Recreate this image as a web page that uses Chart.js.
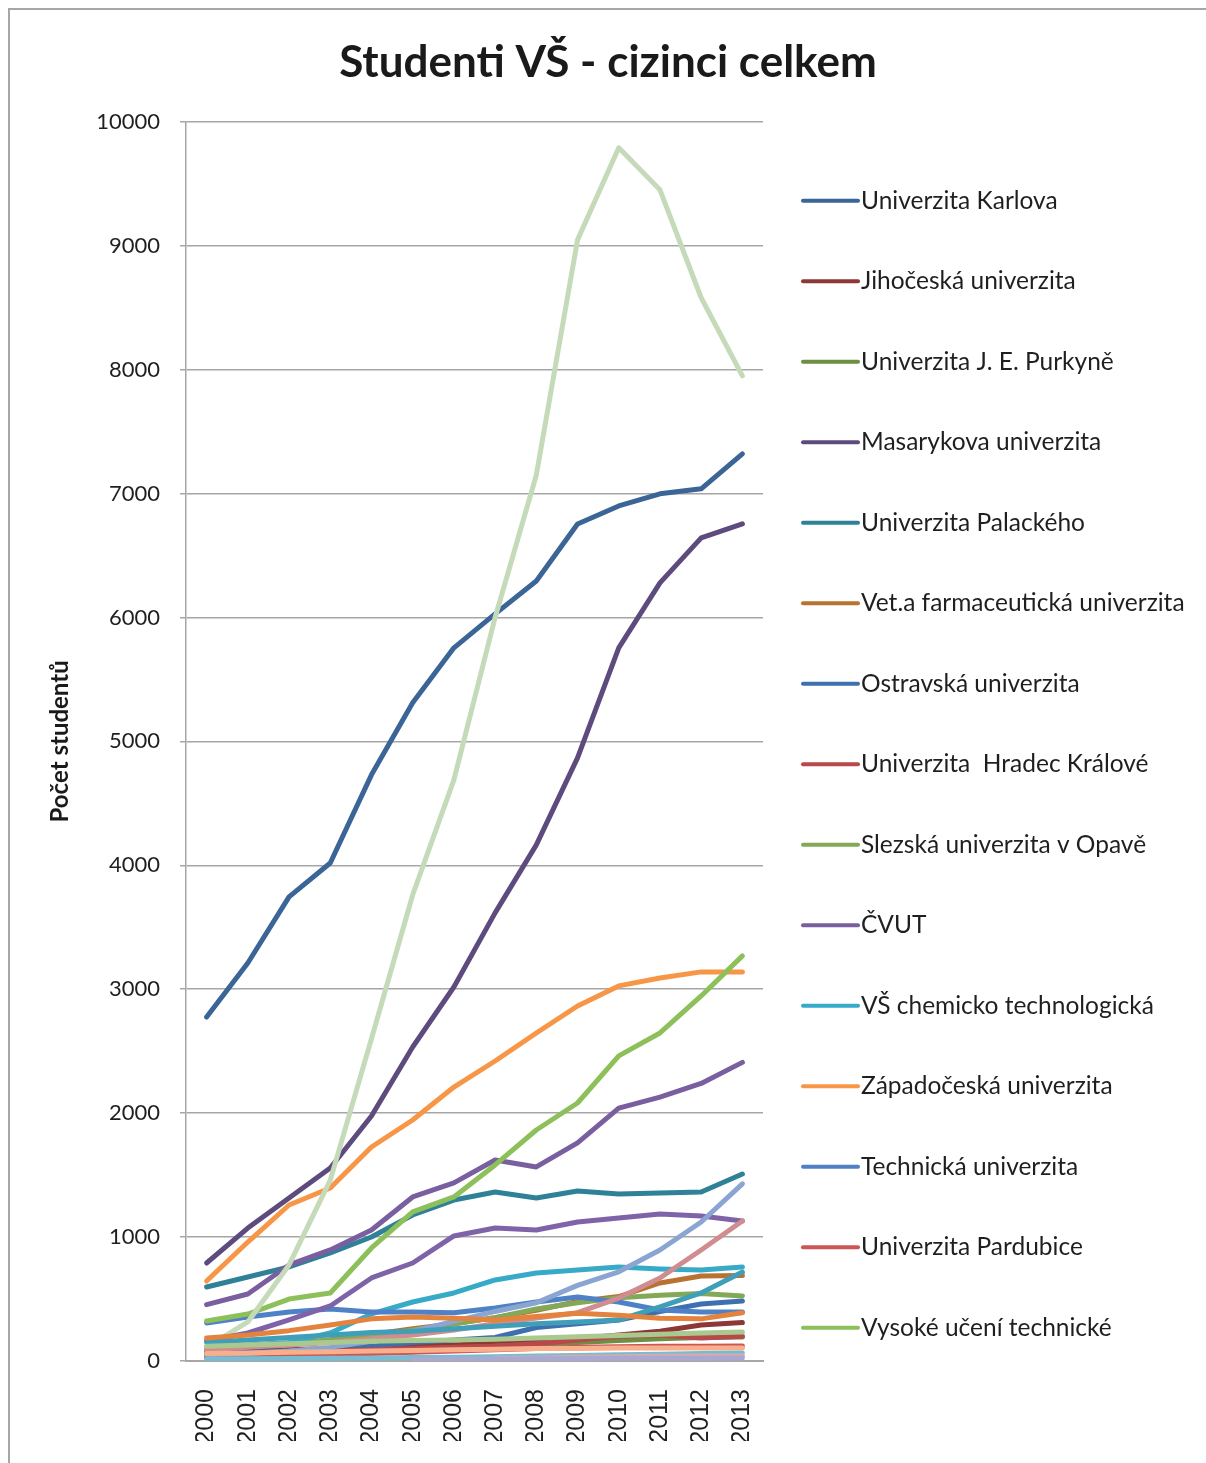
<!DOCTYPE html>
<html>
<head>
<meta charset="utf-8">
<style>
  html, body { margin: 0; padding: 0; background: #fff; }
  .frame {
    position: absolute;
    left: 8px; top: 8px;
    width: 1220px; height: 1480px;
    border: 2px solid #a6a6a6;
    box-sizing: border-box;
  }
  .chart-box {
    position: absolute;
    left: 10px; top: 10px;
    width: 1196px; height: 1453px;
  }
</style>
</head>
<body>
<div class="frame"></div>
<div class="chart-box"><canvas id="lineChart"></canvas></div>

<script src="https://cdn.jsdelivr.net/npm/chart.js@4/dist/chart.umd.min.js"></script>
<script>
  // years on the x axis
  const years = ['2000','2001','2002','2003','2004','2005','2006','2007','2008','2009','2010','2011','2012','2013'];
  const yTicks = [0, 1000, 2000, 3000, 4000, 5000, 6000, 7000, 8000, 9000, 10000];

  // foreign students per school
  const karlova    = [2776, 3212, 3745, 4019, 4730, 5311, 5755, 6029, 6295, 6755, 6900, 6998, 7038, 7320];
  const jihoceska  = [70, 80, 90, 100, 110, 120, 130, 145, 160, 180, 210, 240, 290, 310];
  const purkyne    = [30, 40, 50, 60, 75, 90, 105, 120, 135, 150, 165, 180, 190, 194];
  const masarykova = [791, 1073, 1316, 1558, 1977, 2534, 3018, 3616, 4165, 4867, 5755, 6279, 6642, 6755];
  const palacky    = [597, 678, 759, 872, 1001, 1178, 1299, 1364, 1316, 1372, 1348, 1356, 1364, 1509];
  const vfu        = [100, 120, 140, 170, 215, 260, 300, 350, 410, 480, 520, 630, 686, 690];
  const ostravska  = [60, 70, 80, 100, 120, 150, 170, 190, 270, 300, 330, 400, 460, 484];
  const hradec     = [50, 60, 70, 80, 90, 100, 110, 120, 140, 170, 200, 210, 185, 200];
  const slezska    = [100, 120, 140, 170, 200, 250, 300, 350, 420, 470, 510, 530, 545, 525];
  const cvut       = [455, 541, 775, 896, 1057, 1324, 1437, 1622, 1566, 1760, 2040, 2130, 2240, 2410];
  const vscht      = [110, 130, 150, 226, 380, 476, 549, 654, 710, 734, 759, 743, 734, 759];
  const zcu        = [646, 960, 1259, 1396, 1727, 1945, 2211, 2421, 2647, 2865, 3027, 3091, 3140, 3140];
  const liberec    = [307, 355, 395, 420, 395, 395, 390, 428, 476, 517, 476, 412, 395, 395];
  const pardubice  = [40, 45, 50, 55, 60, 70, 80, 90, 100, 110, 115, 120, 120, 121];
  const vut        = [323, 379, 500, 549, 912, 1203, 1324, 1582, 1864, 2082, 2462, 2647, 2946, 3269];
  // series past the 15th are not listed in the legend
  const soukrome   = [110, 315, 775, 1460, 2600, 3761, 4690, 6000, 7150, 9047, 9790, 9451, 8580, 7950];
  const mendelu    = [161, 226, 331, 444, 670, 791, 1009, 1073, 1057, 1122, 1154, 1186, 1170, 1130];
  const vse        = [50, 60, 80, 110, 160, 240, 320, 400, 470, 610, 720, 896, 1122, 1430];
  const czu        = [90, 110, 130, 150, 180, 210, 250, 300, 347, 390, 508, 670, 896, 1130];
  const vsb        = [150, 170, 190, 210, 230, 240, 260, 280, 300, 315, 331, 436, 549, 718];
  const utb        = [186, 210, 245, 290, 340, 355, 345, 330, 360, 385, 370, 345, 340, 390];
  const amu        = [120, 130, 140, 150, 160, 165, 170, 175, 185, 195, 205, 215, 225, 234];
  const jamu       = [60, 65, 70, 75, 80, 85, 90, 95, 100, 100, 105, 105, 105, 105];
  const avu        = [15, 18, 20, 22, 25, 28, 30, 35, 40, 45, 50, 55, 60, 65];
  const vsup       = [null, null, null, null, null, null, null, 20, 25, 30, 35, 38, 40, 40];
  const vspj       = [null, null, null, null, null, 8, 12, 15, 18, 20, 22, 22, 23, 24];

  const seriesNames = [
    'Univerzita Karlova', 'Jihočeská univerzita', 'Univerzita J. E. Purkyně', 'Masarykova univerzita',
    'Univerzita Palackého', 'Vet.a farmaceutická univerzita', 'Ostravská univerzita', 'Univerzita  Hradec Králové',
    'Slezská univerzita v Opavě', 'ČVUT', 'VŠ chemicko technologická', 'Západočeská univerzita',
    'Technická univerzita', 'Univerzita Pardubice', 'Vysoké učení technické',
    'Soukromé vysoké školy', 'Mendelova univerzita', 'Vysoká škola ekonomická', 'Česká zemědělská univerzita',
    'VŠB - Technická univerzita Ostrava', 'Univerzita Tomáše Bati', 'Akademie múzických umění',
    'Janáčkova akademie múzických umění', 'Akademie výtvarných umění', 'VŠ uměleckoprůmyslová',
    'Vysoká škola polytechnická'
  ];
  const seriesValues = [
    karlova, jihoceska, purkyne, masarykova, palacky, vfu, ostravska, hradec,
    slezska, cvut, vscht, zcu, liberec, pardubice, vut,
    soukrome, mendelu, vse, czu, vsb, utb, amu, jamu, avu, vsup, vspj
  ];
  const seriesColors = [
    '#3b6596', '#8c3836', '#6e8e43', '#5e4b7e', '#2f8198', '#b9722f', '#3e6fae', '#b9484a',
    '#82a957', '#7a5fa0', '#37aac8', '#f79646', '#4f81c7', '#cc5555', '#8dc05a',
    '#c5dab8', '#7f63a8', '#8ba5d3', '#d08c8e', '#3f9fb8', '#e3833e', '#a9c98f',
    '#f8b08c', '#79bcd2', '#d8abad', '#a9a8d0'
  ];
  const legendCount = 15;

  const datasets = seriesValues.map((vals, i) => ({
    label: seriesNames[i],
    data: vals,
    borderColor: seriesColors[i],
    backgroundColor: seriesColors[i],
    borderWidth: 5,
    borderCapStyle: 'round',
    borderJoinStyle: 'round',
    pointRadius: 0,
    tension: 0,
    spanGaps: false,
    order: -i   // later series painted on top, like the original
  }));

  // legend on the right: line sample + name, only the first 15 series
  const sideLegend = {
    id: 'sideLegend',
    afterDraw(chart) {
      const { ctx, chartArea } = chart;
      const x0 = chartArea.right + 40;
      ctx.save();
      ctx.font = '24.5px Lato';
      ctx.textBaseline = 'middle';
      ctx.textAlign = 'left';
      ctx.lineCap = 'round';
      ctx.lineWidth = 4;
      for (let i = 0; i < legendCount; i++) {
        const y = chartArea.top + 79 + i * 80.5;
        ctx.strokeStyle = seriesColors[i];
        ctx.beginPath();
        ctx.moveTo(x0, y);
        ctx.lineTo(x0 + 55, y);
        ctx.stroke();
        ctx.fillStyle = '#1f1f1f';
        ctx.fillText(seriesNames[i], x0 + 58, y);
      }
      ctx.restore();
    }
  };

  function drawChart() {
    const ctx = document.getElementById('lineChart').getContext('2d');
    new Chart(ctx, {
      type: 'line',
      data: { labels: years, datasets: datasets },
      plugins: [sideLegend],
      options: {
        responsive: true,
        maintainAspectRatio: false,
        animation: false,
        layout: { padding: { left: 0, top: 0, right: 0, bottom: 22 } },
        plugins: {
          legend: { display: false },
          tooltip: { enabled: false },
          title: {
            display: true,
            text: 'Studenti VŠ - cizinci celkem',
            color: '#1a1a1a',
            font: { family: 'Lato', size: 44, weight: 'bold', lineHeight: 1.2 },
            padding: { top: 26, bottom: 33 }
          }
        },
        scales: {
          x: {
            offset: true,
            grid: { display: false },
            border: { display: true, color: '#a6a6a6', width: 2 },
            ticks: {
              maxRotation: 90, minRotation: 90,
              padding: 20,
              color: '#1f1f1f',
              font: { family: 'Liberation Sans', size: 25 }
            },
            afterFit(scale) { scale.height = 80; }
          },
          y: {
            min: 0, max: 10000,
            afterBuildTicks(scale) { scale.ticks = yTicks.map(v => ({ value: v })); },
            grid: { color: '#a6a6a6', lineWidth: 1.5, tickLength: 6 },
            border: { display: true, color: '#a6a6a6', width: 1.5 },
            ticks: {
              padding: 20,
              color: '#1f1f1f',
              font: { family: 'Lato', size: 22 },
              callback: v => String(v)
            },
            title: {
              display: true,
              text: 'Počet studentů',
              color: '#1a1a1a',
              font: { family: 'Lato', size: 24, weight: 'bold', lineHeight: 1.2 },
              padding: { top: 36, bottom: 0 }
            },
            afterFit(scale) { scale.width = 176; }
          },
          // empty right-hand box that reserves room for the legend
          side: {
            position: 'right',
            display: true,
            grid: { display: false },
            border: { display: false },
            ticks: { display: false },
            afterFit(scale) { scale.width = 443; }
          }
        }
      }
    });
  }

  Promise.all([
    document.fonts.load('24px Lato'),
    document.fonts.load('bold 44px Lato'),
    document.fonts.load('25px "Liberation Sans"')
  ]).then(drawChart, drawChart);
</script>
</body>
</html>
